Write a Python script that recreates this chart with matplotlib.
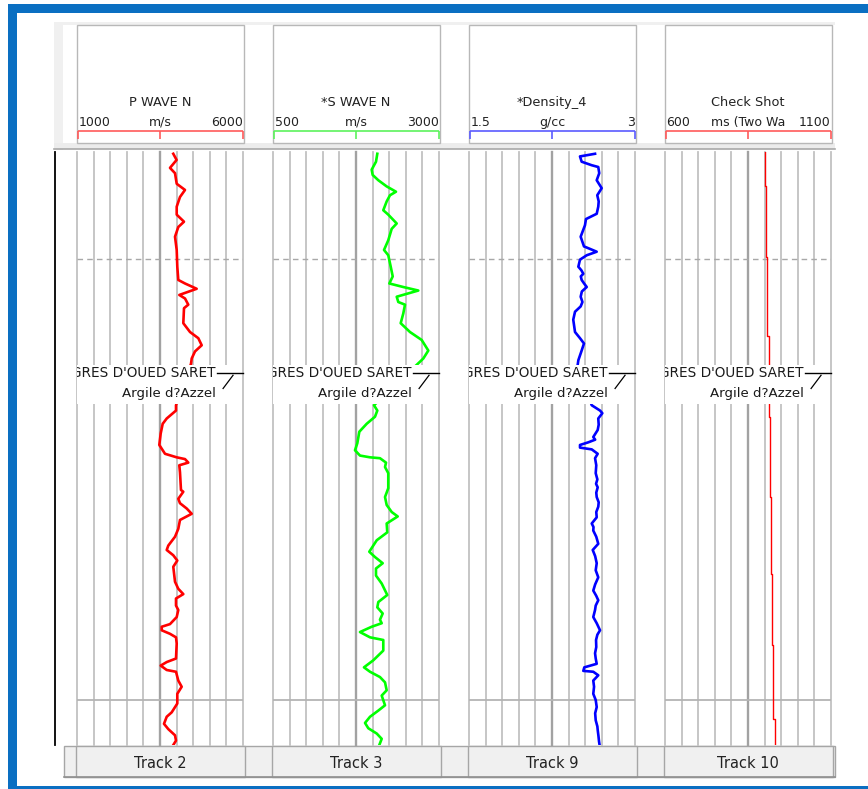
import matplotlib
matplotlib.use("Agg")
import matplotlib.pyplot as plt
from matplotlib.patches import Rectangle
from matplotlib.transforms import blended_transform_factory

# --- track definitions ---
track_names = ["Track 2", "Track 3", "Track 9", "Track 10"]
curve_names = ["P WAVE N", "*S WAVE N", "*Density_4", "Check Shot"]
curve_units = ["m/s", "m/s", "g/cc", "ms (Two Wa"]
scale_min = [1000, 500, 1.5, 600]
scale_max = [6000, 3000, 3, 1100]
scale_min_lbl = ["1000", "500", "1.5", "600"]
scale_max_lbl = ["6000", "3000", "3", "1100"]
curve_colors = ["#ff0000", "#00ff00", "#0000ff", "#ff0000"]
header_colors = ["#ff5a5a", "#5cf25c", "#5a5aff", "#ff5a5a"]
curve_lw = [1.9, 1.9, 1.9, 1.0]

depth_top, depth_bot = 2437.9, 2505.1
depth_dashed = [2450]
depth_solid = [2500]

form_upper = "GRES D'OUED SARET"
form_lower = "Argile d?Azzel"
form_depth = 2463.0
form_gap = (2462.05, 2466.5)   # zone hidden behind the marker labels

# --- curves (depth m, value) ---
p_depth = [2438.1, 2438.8, 2439.7, 2440.3, 2441.5, 2442.2, 2443.0, 2444.1, 2445.0, 2445.8,
           2446.4, 2447.5, 2449.0, 2450.9, 2452.4, 2452.8, 2453.4, 2454.1, 2454.5, 2455.2,
           2455.6, 2457.3, 2458.3, 2459.0, 2459.8, 2460.5, 2461.3, 2461.9,
           2466.6, 2467.2, 2468.1, 2468.7, 2469.8, 2471.1, 2472.1, 2472.5, 2472.7, 2473.1,
           2473.4, 2474.2, 2476.2, 2476.4, 2477.2, 2477.7, 2478.3, 2478.9, 2479.6, 2480.6,
           2481.5, 2482.5, 2483.0, 2483.6, 2484.2, 2484.9, 2486.6, 2487.4, 2488.0, 2488.5,
           2489.3, 2489.8, 2490.6, 2491.4, 2491.7, 2492.1, 2492.5, 2492.9, 2493.6, 2495.3,
           2495.7, 2496.1, 2496.6, 2496.8, 2497.8, 2498.5, 2499.3, 2500.4, 2501.4, 2501.9,
           2502.7, 2503.3, 2504.0, 2504.6, 2505.1]
p_vel = [3900, 4000, 3801, 3952, 4003, 4253, 4102, 4003, 4003, 4223,
         4051, 3952, 4003, 4021, 4051, 4253, 4605, 4081, 4253, 4352,
         4223, 4202, 4404, 4654, 4756, 4554, 4455, 4434,
         3982, 3982, 3702, 3581, 3521, 3479, 3651, 4003, 4253, 4352,
         4081, 4102, 4132, 4202, 4051, 4102, 4304, 4455, 4102, 4051,
         3952, 3750, 3702, 3900, 4021, 3900, 3952, 4051, 4202, 3982,
         3982, 4051, 4003, 3801, 3551, 3551, 3801, 3982, 4003, 3982,
         3702, 3521, 3702, 3982, 4051, 4153, 4021, 4021, 3852, 3702,
         3620, 3750, 3952, 3982, 3900]

s_depth = [2438.1, 2439.0, 2439.9, 2440.5, 2441.1, 2441.8, 2442.4, 2442.8, 2443.5, 2444.5,
           2445.0, 2446.0, 2446.6, 2447.9, 2449.0, 2449.6, 2450.9, 2452.0, 2452.8, 2453.2,
           2453.6, 2454.3, 2454.9, 2455.2, 2456.2, 2457.3, 2458.3, 2459.2, 2460.4, 2461.3,
           2462.2,
           2466.6, 2467.2, 2467.9, 2468.7, 2469.6, 2470.9, 2471.7, 2472.3, 2472.5, 2472.6,
           2473.1, 2473.6, 2474.3, 2476.0, 2477.0, 2477.9, 2478.7, 2479.2, 2480.0, 2481.0,
           2481.9, 2483.2, 2483.8, 2484.5, 2485.1, 2485.9, 2486.8, 2488.1, 2488.9, 2489.5,
           2490.2, 2490.9, 2491.3, 2491.7, 2492.3, 2492.9, 2493.2, 2494.4, 2495.5, 2496.3,
           2496.8, 2497.4, 2498.0, 2498.9, 2499.5, 2500.6, 2501.2, 2501.9, 2502.6, 2503.2,
           2503.8, 2504.4, 2505.1]
s_vel = [2071, 2051, 1986, 2001, 2086, 2212, 2352, 2262, 2212, 2161,
         2236, 2363, 2288, 2236, 2172, 2236, 2273, 2303, 2252, 2462,
         2688, 2363, 2387, 2488, 2462, 2423, 2563, 2739, 2839, 2764,
         2639,
         2021, 2071, 2036, 1911, 1800, 1770, 1735, 1810, 1961, 2111,
         2202, 2187, 2236, 2236, 2187, 2212, 2288, 2378, 2212, 2221,
         2062, 1950, 2036, 2152, 2051, 2051, 2137, 2221, 2086, 2071,
         2152, 2111, 2137, 1986, 1810, 1961, 2161, 2161, 2011, 1870,
         1961, 2111, 2187, 2212, 2137, 2187, 2086, 1961, 1886, 1935,
         2062, 2137, 2101]

rho_depth = [2438.1, 2438.4, 2439.0, 2439.4, 2439.6, 2440.3, 2441.1, 2442.0, 2442.8, 2443.5,
             2444.1, 2444.9, 2445.5, 2446.2, 2446.7, 2447.5, 2448.6, 2448.8, 2449.2, 2449.6,
             2450.1, 2450.9, 2451.3, 2451.7, 2452.0, 2452.4, 2452.8, 2453.2, 2453.7, 2454.3,
             2454.9, 2455.4, 2456.0, 2456.9, 2458.3, 2459.0, 2459.6, 2460.4, 2461.5, 2462.2,
             2466.6, 2467.2, 2467.5, 2468.1, 2468.8, 2469.4, 2470.2, 2470.5, 2470.8, 2471.1,
             2471.4, 2471.6, 2472.1, 2472.6, 2473.4, 2474.3, 2475.0, 2475.5, 2475.9, 2476.5,
             2477.0, 2477.6, 2478.1, 2478.7, 2479.3, 2480.0, 2480.4, 2480.8, 2481.5, 2482.3,
             2483.0, 2483.7, 2484.5, 2485.3, 2486.1, 2486.9, 2487.6, 2488.2, 2488.7, 2489.3,
             2489.8, 2490.6, 2491.3, 2492.1, 2492.6, 2493.2, 2494.0, 2494.7, 2495.3, 2495.9,
             2496.3, 2496.7, 2496.8, 2497.2, 2497.8, 2498.5, 2499.3, 2500.0, 2500.8, 2501.5,
             2502.3, 2503.0, 2503.4, 2504.1, 2504.7, 2505.1]
rho = [2.639, 2.503, 2.518, 2.609, 2.668, 2.677, 2.654, 2.699, 2.659, 2.672,
       2.668, 2.654, 2.557, 2.548, 2.533, 2.509, 2.539, 2.578, 2.654, 2.564,
       2.503, 2.488, 2.515, 2.533, 2.510, 2.518, 2.540, 2.564, 2.520, 2.509,
       2.525, 2.509, 2.458, 2.442, 2.458, 2.503, 2.539, 2.518, 2.488, 2.480,
       2.609, 2.684, 2.705, 2.668, 2.672, 2.663, 2.623, 2.640, 2.578, 2.503,
       2.503, 2.609, 2.663, 2.639, 2.650, 2.645, 2.660, 2.648, 2.663, 2.650,
       2.654, 2.672, 2.668, 2.650, 2.654, 2.609, 2.625, 2.623, 2.650, 2.668,
       2.618, 2.640, 2.654, 2.645, 2.668, 2.640, 2.623, 2.650, 2.668, 2.645,
       2.639, 2.623, 2.654, 2.684, 2.660, 2.648, 2.650, 2.639, 2.645, 2.654,
       2.542, 2.533, 2.623, 2.668, 2.623, 2.630, 2.623, 2.645, 2.654, 2.640,
       2.645, 2.660, 2.663, 2.670, 2.675, 2.680]

cs_depth = [2437.9, 2441.8, 2449.8, 2458.8, 2467.9, 2477.0, 2485.7, 2493.8, 2502.1, 2505.1]
cs_twt = [901, 904, 908, 912, 916, 919, 923, 926, 930, 930]

curves = [(p_vel, p_depth), (s_vel, s_depth), (rho, rho_depth), (cs_twt, cs_depth)]

# --- layout in pixels ---
W, H = 868, 789
track_x0 = [77, 273, 469, 665]
track_w = 166
data_top, data_bot = 152, 745
blue = "#0a6fc2"

fig = plt.figure(figsize=(W / 100, H / 100), dpi=100)
fig.patch.set_facecolor("white")

bg = fig.add_axes([0, 0, 1, 1])
bg.set_xlim(0, W)
bg.set_ylim(H, 0)
bg.axis("off")

# outer blue frame
bg.add_patch(Rectangle((8, 4), W - 8, 9, fc=blue, ec="none"))
bg.add_patch(Rectangle((8, 4), 8.5, H - 4, fc=blue, ec="none"))
bg.add_patch(Rectangle((8, 785.5), W - 8, 4, fc=blue, ec="none"))

# header panel pieces
bg.add_patch(Rectangle((54, 22), 781, 2.5, fc="#f0f0f0", ec="none"))
bg.add_patch(Rectangle((54, 22), 9, 128, fc="#f0f0f0", ec="none"))
bg.add_patch(Rectangle((54, 143), 781, 5.5, fc="#ececec", ec="none"))
bg.plot([54, 835], [148.8, 148.8], color="#a9a9a9", lw=1.2)
bg.plot([54.8, 54.8], [data_top, data_bot], color="black", lw=1.3)

for i, x0 in enumerate(track_x0):
    x1 = x0 + track_w
    xm = x0 + track_w / 2
    bg.add_patch(Rectangle((x0, 24.5), track_w + 0.5, 118.5, fc="white", ec="#b8b8b8", lw=1.0))
    bg.text(xm, 102.5, curve_names[i], ha="center", va="center", fontsize=9.3, color="#222222")
    bg.text(x0 + 1.5, 122, scale_min_lbl[i], ha="left", va="center", fontsize=9, color="#222222")
    bg.text(x1 - 0.5, 122, scale_max_lbl[i], ha="right", va="center", fontsize=9, color="#222222")
    bg.text(xm, 122, curve_units[i], ha="center", va="center", fontsize=9, color="#222222")
    c = header_colors[i]
    bg.plot([x0 + 0.5, x1], [131, 131], color=c, lw=1.2, solid_capstyle="butt")
    for xt in (x0 + 0.5, xm, x1):
        bg.plot([xt, xt], [131, 138.5], color=c, lw=1.2, solid_capstyle="butt")

# bottom track buttons
bg.add_patch(Rectangle((64, 746), 771, 31, fc="#f0f0f0", ec="#a6a6a6", lw=1.0))
for i, x0 in enumerate(track_x0):
    bg.add_patch(Rectangle((x0 - 1, 746), track_w + 2.5, 31, fc="#f0f0f0", ec="#a6a6a6", lw=1.0))
    bg.text(x0 + track_w / 2, 763, track_names[i], ha="center", va="center",
            fontsize=10.5, color="#222222")
bg.plot([64, 835], [777, 777], color="#909090", lw=1.2)

# --- tracks ---
for i, x0 in enumerate(track_x0):
    ax = fig.add_axes([x0 / W, 1 - data_bot / H, track_w / W, (data_bot - data_top) / H])
    ax.set_facecolor("white")
    lo, hi = scale_min[i], scale_max[i]
    ax.set_xlim(lo, hi)
    ax.set_ylim(depth_bot, depth_top)
    for s in ax.spines.values():
        s.set_visible(False)
    ax.set_xticks([])
    ax.set_yticks([])

    step = (hi - lo) / 10
    for k in range(11):
        mid = k == 5
        ax.axvline(lo + k * step, color="#a2a2a2" if mid else "#c2c2c2",
                   lw=1.7 if mid else 1.3, clip_on=False, zorder=1)
    for d in depth_dashed:
        ax.axhline(d, color="#a8a8a8", lw=1.0, ls=(0, (4, 3)), zorder=1)
    for d in depth_solid:
        ax.axhline(d, color="#b4b4b4", lw=1.3, zorder=1)

    xv, dv = curves[i]
    ds = "steps-pre" if i == 3 else "default"
    ax.plot(xv, dv, color=curve_colors[i], lw=curve_lw[i], drawstyle=ds, zorder=2)

    # formation marker
    tr = blended_transform_factory(ax.transAxes, ax.transData)
    ax.add_patch(Rectangle((0, form_gap[0]), 0.985, form_gap[1] - form_gap[0],
                           transform=tr, fc="white", ec="none", zorder=3))
    ax.plot([0.843, 1.0], [form_depth, form_depth], transform=tr, color="black",
            lw=1.0, zorder=4, clip_on=False)
    ax.plot([0.94, 0.88], [form_depth + 0.2, form_depth + 1.7], transform=tr,
            color="black", lw=0.9, zorder=4)
    ax.text(0.835, form_depth, form_upper, transform=tr, ha="right", va="center",
            fontsize=9.8, color="#1a1a1a", zorder=5, clip_on=True)
    ax.text(0.837, form_depth + 2.3, form_lower, transform=tr, ha="right", va="center",
            fontsize=9.6, color="#1a1a1a", zorder=5, clip_on=True)

fig.savefig("out.png", dpi=100)
